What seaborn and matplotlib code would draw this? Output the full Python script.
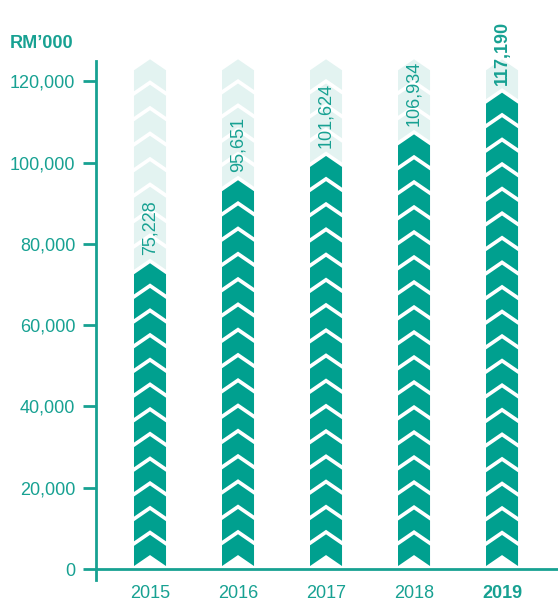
import numpy as np
import pandas as pd
import matplotlib
matplotlib.use("Agg")
import matplotlib.pyplot as plt
import seaborn as sns
from matplotlib.patches import Polygon

# Yearly figures (RM'000)
years = ["2015", "2016", "2017", "2018", "2019"]
values = [75228, 95651, 101624, 106934, 117190]
value_labels = ["75,228", "95,651", "101,624", "106,934", "117,190"]
y_ticks = [0, 20000, 40000, 60000, 80000, 100000, 120000]
y_tick_labels = ["0", "20,000", "40,000", "60,000", "80,000", "100,000", "120,000"]
highlight_year = "2019"
column_top = 125400

DARK = "#00A08F"
LIGHT = "#E3F3F1"
TEXT = "#17A192"

sns.set_theme(style="ticks")
plt.rcParams["font.family"] = ["Liberation Sans", "DejaVu Sans"]

fig = plt.figure(figsize=(5.58, 6.02), dpi=100)
ax = fig.add_axes([0.172, 0.0365, 0.828, 0.8623])

df = pd.DataFrame({"year": years, "value": values})
sns.barplot(data=df, x="year", y="value", ax=ax, color=DARK,
            width=0.364, saturation=1, errorbar=None)

y_min, y_max = -2700, 125000
ax.set_ylim(y_min, y_max)
ax.set_xlim(-0.614, 4.636)

# chevron geometry, given in pixels and converted to data units
fig.canvas.draw()
ax_h_px = ax.get_window_extent().height
u = (y_max - y_min) / ax_h_px
drop = 11 * u
gap = 4.5 * u
period_px = 25
base0 = 3 * u


def chevron(x0, w, b, h, color):
    xc = x0 + w / 2
    pts = [(x0, b), (xc, b + drop), (x0 + w, b), (x0 + w, b + h),
           (xc, b + h + drop), (x0, b + h)]
    ax.add_patch(Polygon(pts, closed=True, facecolor=color,
                         edgecolor="none", clip_on=False, zorder=2))


for patch in list(ax.patches):
    x0, w, val = patch.get_x(), patch.get_width(), patch.get_height()
    patch.set_visible(False)
    # filled stack: the last tip lands on the value
    span = val - base0 + gap - drop
    n = max(1, int(round(span / (period_px * u))))
    p = span / n
    for k in range(n):
        chevron(x0, w, base0 + k * p, p - gap, DARK)
    # pale stack from the value up to the common column top
    rest = column_top - val
    m = max(1, int(round(rest / (period_px * u))))
    q = rest / m
    for j in range(m):
        chevron(x0, w, val - drop + gap + j * q, q - gap, LIGHT)

# value labels above each column
for i, (yr, val, lab) in enumerate(zip(years, values, value_labels)):
    ax.text(i, val + 2000, lab, rotation=90, ha="center", va="bottom",
            color=TEXT, fontsize=13,
            fontweight="bold" if yr == highlight_year else "normal",
            zorder=3)

# axes styling
for s in ["top", "right", "bottom"]:
    ax.spines[s].set_visible(False)
ax.spines["left"].set_color(TEXT)
ax.spines["left"].set_linewidth(2)
ax.axhline(0, color=TEXT, lw=2, zorder=4, clip_on=False)

ax.set_yticks(y_ticks)
ax.set_yticklabels(y_tick_labels)
ax.tick_params(axis="y", direction="out", length=9.5, width=2, color=TEXT,
               labelcolor=TEXT, labelsize=13, pad=5.5)
ax.tick_params(axis="x", length=0, labelcolor=TEXT, labelsize=13, pad=3.5)
for lbl in ax.get_xticklabels():
    if lbl.get_text() == highlight_year:
        lbl.set_fontweight("bold")
ax.set_xlabel("")
ax.set_ylabel("")

fig.text(10 / 558, 1 - 44 / 602, "RM\u2019000", ha="left", va="center",
         fontsize=13, fontweight="bold", color=TEXT)

fig.savefig("out.png", dpi=100)
